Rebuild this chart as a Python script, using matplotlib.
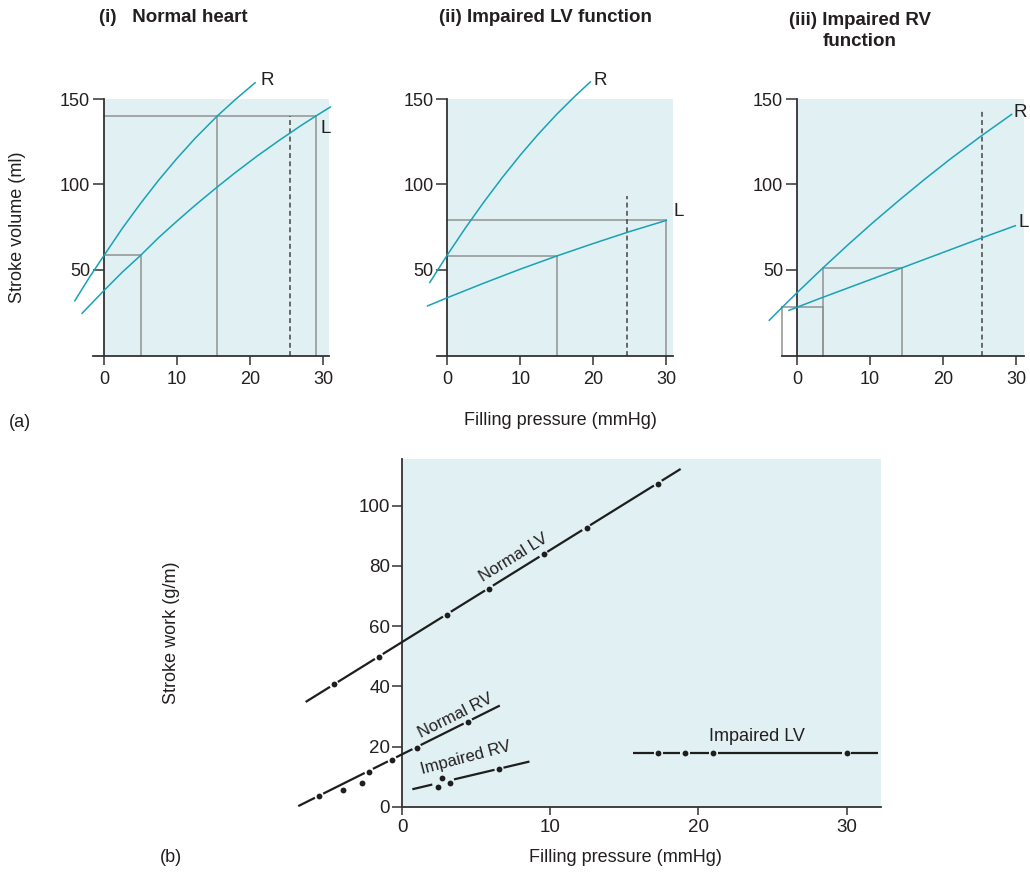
import numpy as np
import matplotlib
matplotlib.use("Agg")
import matplotlib.pyplot as plt

plt.rcParams['font.family'] = ['Liberation Sans', 'DejaVu Sans']
plt.rcParams['text.color'] = '#231f20'

# ---------------- data ----------------
pressure_ticks = [0, 10, 20, 30]
volume_ticks = [50, 100, 150]
work_ticks = [0, 20, 40, 60, 80, 100]

# (i) Normal heart: Starling curves, stroke volume (ml) vs filling pressure (mmHg)
normal_r_p = [-4.0, -2.0, 0.0, 2.5, 5.0, 7.5, 10.0, 12.5, 15.5, 18.0, 20.7]
normal_r_sv = [32.0, 45.7, 58.5, 74.3, 88.9, 102.6, 115.3, 127.1, 140.0, 149.7, 159.5]
normal_l_p = [-3.0, 0.0, 2.5, 5.0, 7.5, 10.0, 12.5, 15.5, 18.0, 21.0, 24.0, 27.0, 29.0, 31.0]
normal_l_sv = [24.7, 38.0, 48.7, 58.5, 69.0, 78.6, 87.9, 98.5, 107.0, 116.7, 125.8, 134.5, 140.0, 145.3]
normal_rest_sv, normal_rest_p = 58.5, [5.0]
normal_ex_sv, normal_ex_p = 140.0, [15.5, 29.0]
normal_limit_p, normal_limit_sv = 25.5, 140.0

# (ii) Impaired LV function
lvf_r_p = [-2.4, 0.0, 2.5, 5.0, 7.5, 10.0, 12.5, 15.0, 17.5, 19.6]
lvf_r_sv = [42.7, 58.8, 74.7, 89.7, 103.9, 117.2, 129.6, 141.1, 151.7, 160.0]
lvf_l_p = [-2.7, 0.0, 5.0, 10.0, 15.0, 20.0, 25.0, 30.0]
lvf_l_sv = [29.0, 33.8, 42.3, 50.5, 58.2, 65.5, 72.5, 79.0]
lvf_rest_sv, lvf_rest_p = 58.2, [15.0]
lvf_high_sv, lvf_high_p = 79.0, [30.0]
lvf_limit_p, lvf_limit_sv = 24.6, 93.0

# (iii) Impaired RV function
rvf_r_p = [-3.8, -2.0, 0.0, 3.6, 7.0, 10.5, 14.0, 17.5, 21.0, 25.4, 29.4]
rvf_r_sv = [20.6, 28.3, 36.7, 51.4, 64.8, 78.1, 90.8, 103.1, 114.9, 128.9, 141.0]
rvf_l_p = [-1.1, 2.9, 14.4, 25.4, 29.9]
rvf_l_sv = [26.4, 33.0, 51.3, 68.9, 75.9]
rvf_low_sv, rvf_low_p = 28.2, [-2.0, 3.6]
rvf_high_sv, rvf_high_p = 51.4, [3.6, 14.4]
rvf_limit_p, rvf_limit_sv = 25.4, 143.0

# (b) Stroke work (g/m) vs filling pressure (mmHg)
normal_lv_p = [-4.6, -1.55, 3.05, 5.9, 9.55, 12.45, 17.3]
normal_lv_sw = [40.7, 49.8, 63.8, 72.4, 83.8, 92.5, 107.2]
normal_lv_line_p = [-6.5, 18.8]
normal_lv_line_sw = [34.8, 112.2]

normal_rv_p = [-5.6, -4.0, -2.7, -2.2, -0.65, 1.0, 4.45]
normal_rv_sw = [3.7, 5.5, 8.0, 11.5, 15.5, 19.6, 28.2]
normal_rv_line_p = [-7.0, 6.6]
normal_rv_line_sw = [0.2, 33.6]

impaired_rv_p = [2.4, 2.7, 3.25, 6.55]
impaired_rv_sw = [6.6, 9.4, 7.8, 12.5]
impaired_rv_line_p = [0.7, 8.6]
impaired_rv_line_sw = [5.8, 15.0]

impaired_lv_p = [17.3, 19.1, 21.0, 30.0]
impaired_lv_sw = [17.9, 17.9, 17.9, 17.9]
impaired_lv_line_p = [15.6, 32.1]
impaired_lv_line_sw = [17.9, 17.9]

# ---------------- style ----------------
W, H = 1030, 873
TEAL = '#17a3b4'
SHADE = '#e1f0f3'
GUIDE = '#929292'
AXIS = '#333333'
INK = '#1e1e1e'
FS = 13

fig = plt.figure(figsize=(W / 100, H / 100), dpi=100)


def place_axes(x0_px, y0_px, sx, sy, xlim, ylim):
    """Create axes so that data (0, 0) sits at pixel (x0_px, y0_px) with sx, sy px per unit."""
    left = x0_px + xlim[0] * sx
    right = x0_px + xlim[1] * sx
    top = y0_px - ylim[1] * sy
    bottom = y0_px - ylim[0] * sy
    ax = fig.add_axes([left / W, 1 - bottom / H, (right - left) / W, (bottom - top) / H])
    ax.set_xlim(*xlim)
    ax.set_ylim(*ylim)
    ax.patch.set_visible(False)
    for s in ('top', 'right'):
        ax.spines[s].set_visible(False)
    for s in ('left', 'bottom'):
        ax.spines[s].set_position(('data', 0))
        ax.spines[s].set_color(AXIS)
        ax.spines[s].set_linewidth(1.3)
    ax.tick_params(direction='out', color=AXIS, width=1.1, labelcolor='#231f20')
    return ax


def starling_panel(x0_px, shade_right, axis_left, r, l, guides, limit, labels):
    ax = place_axes(x0_px, 355.5, 7.3, 1.71, (-4.5, 32.5), (-12, 170))
    ax.add_patch(plt.Rectangle((0, 0), shade_right, 150, facecolor=SHADE,
                               edgecolor='none', zorder=0))
    ax.spines['left'].set_bounds(0, 150)
    ax.spines['bottom'].set_bounds(axis_left, shade_right)
    ax.set_xticks(pressure_ticks)
    ax.set_yticks(volume_ticks)
    ax.tick_params(axis='y', length=8, pad=2, labelsize=FS)
    ax.tick_params(axis='x', length=6.5, pad=4.5, labelsize=FS)

    for sv, ps, start in guides:
        ax.plot([start, max(ps)], [sv, sv], color=GUIDE, lw=1.1, zorder=1)
        for p in ps:
            ax.plot([p, p], [0, sv], color=GUIDE, lw=1.1, zorder=1)
    lp, lsv = limit
    ax.plot([lp, lp], [0, lsv], color='#444444', lw=1.1, dashes=(3.2, 2.2), zorder=1)

    ax.plot(r[0], r[1], color=TEAL, lw=1.1, zorder=3, clip_on=False)
    ax.plot(l[0], l[1], color=TEAL, lw=1.1, zorder=3, clip_on=False)
    for (tx, ty, s) in labels:
        ax.text(tx, ty, s, fontsize=13.5, ha='center', va='center', clip_on=False)
    return ax


# (i)
starling_panel(104, 30.8, -1.5,
               (normal_r_p, normal_r_sv), (normal_l_p, normal_l_sv),
               [(normal_rest_sv, normal_rest_p, 0), (normal_ex_sv, normal_ex_p, 0)],
               (normal_limit_p, normal_limit_sv),
               [(22.3, 161, 'R'), (30.3, 133, 'L')])
# (ii)
starling_panel(447.3, 30.9, -1.4,
               (lvf_r_p, lvf_r_sv), (lvf_l_p, lvf_l_sv),
               [(lvf_rest_sv, lvf_rest_p, 0), (lvf_high_sv, lvf_high_p, 0)],
               (lvf_limit_p, lvf_limit_sv),
               [(21.0, 161, 'R'), (31.7, 84, 'L')])
# (iii)
starling_panel(797, 31.1, -2.0,
               (rvf_r_p, rvf_r_sv), (rvf_l_p, rvf_l_sv),
               [(rvf_low_sv, rvf_low_p, min(rvf_low_p)), (rvf_high_sv, rvf_high_p, min(rvf_high_p))],
               (rvf_limit_p, rvf_limit_sv),
               [(30.6, 142, 'R'), (31.0, 78, 'L')])

fig.text(173 / W, 1 - 18 / H, '(i)   Normal heart', fontsize=13.5, fontweight='bold',
         ha='center', va='center')
fig.text(545 / W, 1 - 18 / H, '(ii) Impaired LV function', fontsize=13.5, fontweight='bold',
         ha='center', va='center')
fig.text(860 / W, 1 - 31 / H, '(iii) Impaired RV\nfunction', fontsize=13.5, fontweight='bold',
         ha='center', va='center', linespacing=1.35)
fig.text(18 / W, 1 - 227 / H, 'Stroke volume (ml)', fontsize=FS, rotation=90,
         ha='center', va='center')
fig.text(560 / W, 1 - 420 / H, 'Filling pressure (mmHg)', fontsize=FS,
         ha='center', va='center')
fig.text(9 / W, 1 - 422 / H, '(a)', fontsize=FS, ha='left', va='center')

# ---------------- (b) stroke work ----------------
axb = place_axes(402, 806.7, 14.82, 3.01, (-7.6, 33.0), (-3.5, 118))
axb.add_patch(plt.Rectangle((0, 0), 32.3, 115.4, facecolor=SHADE, edgecolor='none', zorder=0))
axb.spines['left'].set_bounds(0, 115.4)
axb.spines['bottom'].set_bounds(0, 32.3)
axb.set_xticks(pressure_ticks)
axb.set_yticks(work_ticks)
axb.tick_params(axis='y', length=7, pad=1.5, labelsize=13.5)
axb.tick_params(axis='x', length=6, pad=3, labelsize=13.5)


def broken_line(ax, line_p, line_sw, pts_p, pts_sw, gap_px=4.6, near_px=5.0):
    """Line interrupted around the measured points that lie on it, with the points as dots."""
    tr = ax.transData
    a, b = tr.transform((line_p[0], line_sw[0])), tr.transform((line_p[1], line_sw[1]))
    d = b - a
    length = np.hypot(*d)
    u = d / length
    gaps = []
    for p, s in zip(pts_p, pts_sw):
        q = tr.transform((p, s)) - a
        t = q @ u
        off = abs(q[0] * u[1] - q[1] * u[0])
        if off < near_px:
            gaps.append((t - gap_px, t + gap_px))
    gaps.sort()
    cuts = []
    for g in gaps:
        if cuts and g[0] <= cuts[-1][1]:
            cuts[-1] = (cuts[-1][0], max(cuts[-1][1], g[1]))
        else:
            cuts.append(g)
    inv = tr.inverted()
    pos = 0.0
    pieces = []
    for g0, g1 in cuts:
        if g0 > pos:
            pieces.append((pos, g0))
        pos = max(pos, g1)
    if pos < length:
        pieces.append((pos, length))
    for t0, t1 in pieces:
        p0 = inv.transform(a + u * t0)
        p1 = inv.transform(a + u * t1)
        ax.plot([p0[0], p1[0]], [p0[1], p1[1]], color=INK, lw=1.6,
                solid_capstyle='butt', zorder=3, clip_on=False)
    ax.plot(pts_p, pts_sw, 'o', color=INK, ms=4.2, mew=0, zorder=4, clip_on=False)
    return np.degrees(np.arctan2(d[1], d[0]))


ang_lv = broken_line(axb, normal_lv_line_p, normal_lv_line_sw, normal_lv_p, normal_lv_sw)
ang_rv = broken_line(axb, normal_rv_line_p, normal_rv_line_sw, normal_rv_p, normal_rv_sw)
ang_irv = broken_line(axb, impaired_rv_line_p, impaired_rv_line_sw, impaired_rv_p, impaired_rv_sw)
broken_line(axb, impaired_lv_line_p, impaired_lv_line_sw, impaired_lv_p, impaired_lv_sw)

axb.text(7.5, 82.8, 'Normal LV', fontsize=12, rotation=ang_lv, rotation_mode='anchor',
         ha='center', va='center')
axb.text(3.6, 30.3, 'Normal RV', fontsize=12, rotation=ang_rv, rotation_mode='anchor',
         ha='center', va='center')
axb.text(4.3, 16.3, 'Impaired RV', fontsize=12, rotation=ang_irv + 1.5, rotation_mode='anchor',
         ha='center', va='center')
axb.text(23.95, 23.2, 'Impaired LV', fontsize=13, ha='center', va='center')

fig.text(172 / W, 1 - 633 / H, 'Stroke work (g/m)', fontsize=FS, rotation=90,
         ha='center', va='center')
fig.text(625 / W, 1 - 857 / H, 'Filling pressure (mmHg)', fontsize=FS,
         ha='center', va='center')
fig.text(160 / W, 1 - 857 / H, '(b)', fontsize=FS, ha='left', va='center')

fig.savefig('out.png', dpi=100, facecolor='white')
